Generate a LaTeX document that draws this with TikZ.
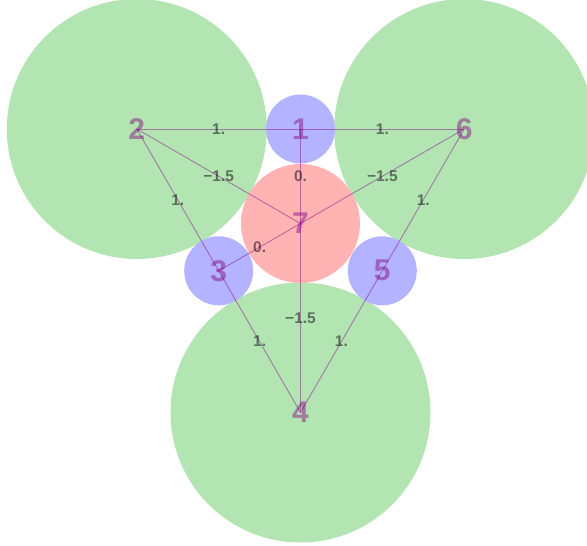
\documentclass[tikz,border=0pt]{standalone}
\usepackage{fontspec}
\setmainfont{Liberation Sans}
\definecolor{gfill}{RGB}{179,229,179}
\definecolor{bfill}{RGB}{179,179,255}
\definecolor{rfill}{RGB}{255,179,179}
\definecolor{epurple}{RGB}{128,0,128}
\begin{document}
\begin{tikzpicture}[x=1pt,y=-1pt,
  disk/.style={circle,inner sep=0pt,draw=none},
  gdisk/.style={disk,fill=gfill,minimum size=260pt},
  bdisk/.style={disk,fill=bfill,minimum size=69pt},
  rdisk/.style={disk,fill=rfill,minimum size=119pt},
  vlab/.style={inner sep=0pt,text=epurple,text opacity=0.45,font=\fontsize{30}{30}\selectfont\bfseries},
  elab/.style={inner sep=0pt,text=black,text opacity=0.5,font=\fontsize{15.5}{16}\selectfont\bfseries},
  edge/.style={draw=epurple,draw opacity=0.45,line width=0.9pt}]
\useasboundingbox (0,0) rectangle (587,546);
\clip (0,0) rectangle (587,546);
% vertex disks
\node[gdisk] (n2) at (136.8,129) {};
\node[gdisk] (n6) at (464.2,129) {};
\node[gdisk] (n4) at (300.5,412.5) {};
\node[bdisk] (n1) at (300.5,129) {};
\node[bdisk] (n3) at (218.7,270.8) {};
\node[bdisk] (n5) at (382.3,270.8) {};
\node[rdisk] (n7) at (300.5,223.5) {};
% edges
\path[edge] (n2.center) -- node[elab] (e12) {1.} (n1.center);
\path[edge] (n1.center) -- node[elab] (e16) {1.} (n6.center);
\path[edge] (n1.center) -- node[elab] (e17) {0.} (n7.center);
\path[edge] (n2.center) -- node[elab] (e23) {1.} (n3.center);
\path[edge] (n2.center) -- node[elab] (e27) {−1.5} (n7.center);
\path[edge] (n3.center) -- node[elab] (e34) {1.} (n4.center);
\path[edge] (n3.center) -- node[elab] (e37) {0.} (n7.center);
\path[edge] (n4.center) -- node[elab] (e45) {1.} (n5.center);
\path[edge] (n4.center) -- node[elab] (e47) {−1.5} (n7.center);
\path[edge] (n5.center) -- node[elab] (e56) {1.} (n6.center);
\path[edge] (n6.center) -- node[elab] (e67) {−1.5} (n7.center);
% vertex labels
\node[vlab] (l1) at (n1.center) {1};
\node[vlab] (l2) at (n2.center) {2};
\node[vlab] (l3) at (n3.center) {3};
\node[vlab] (l4) at (n4.center) {4};
\node[vlab] (l5) at (n5.center) {5};
\node[vlab] (l6) at (n6.center) {6};
\node[vlab] (l7) at (n7.center) {7};
\end{tikzpicture}
\end{document}
